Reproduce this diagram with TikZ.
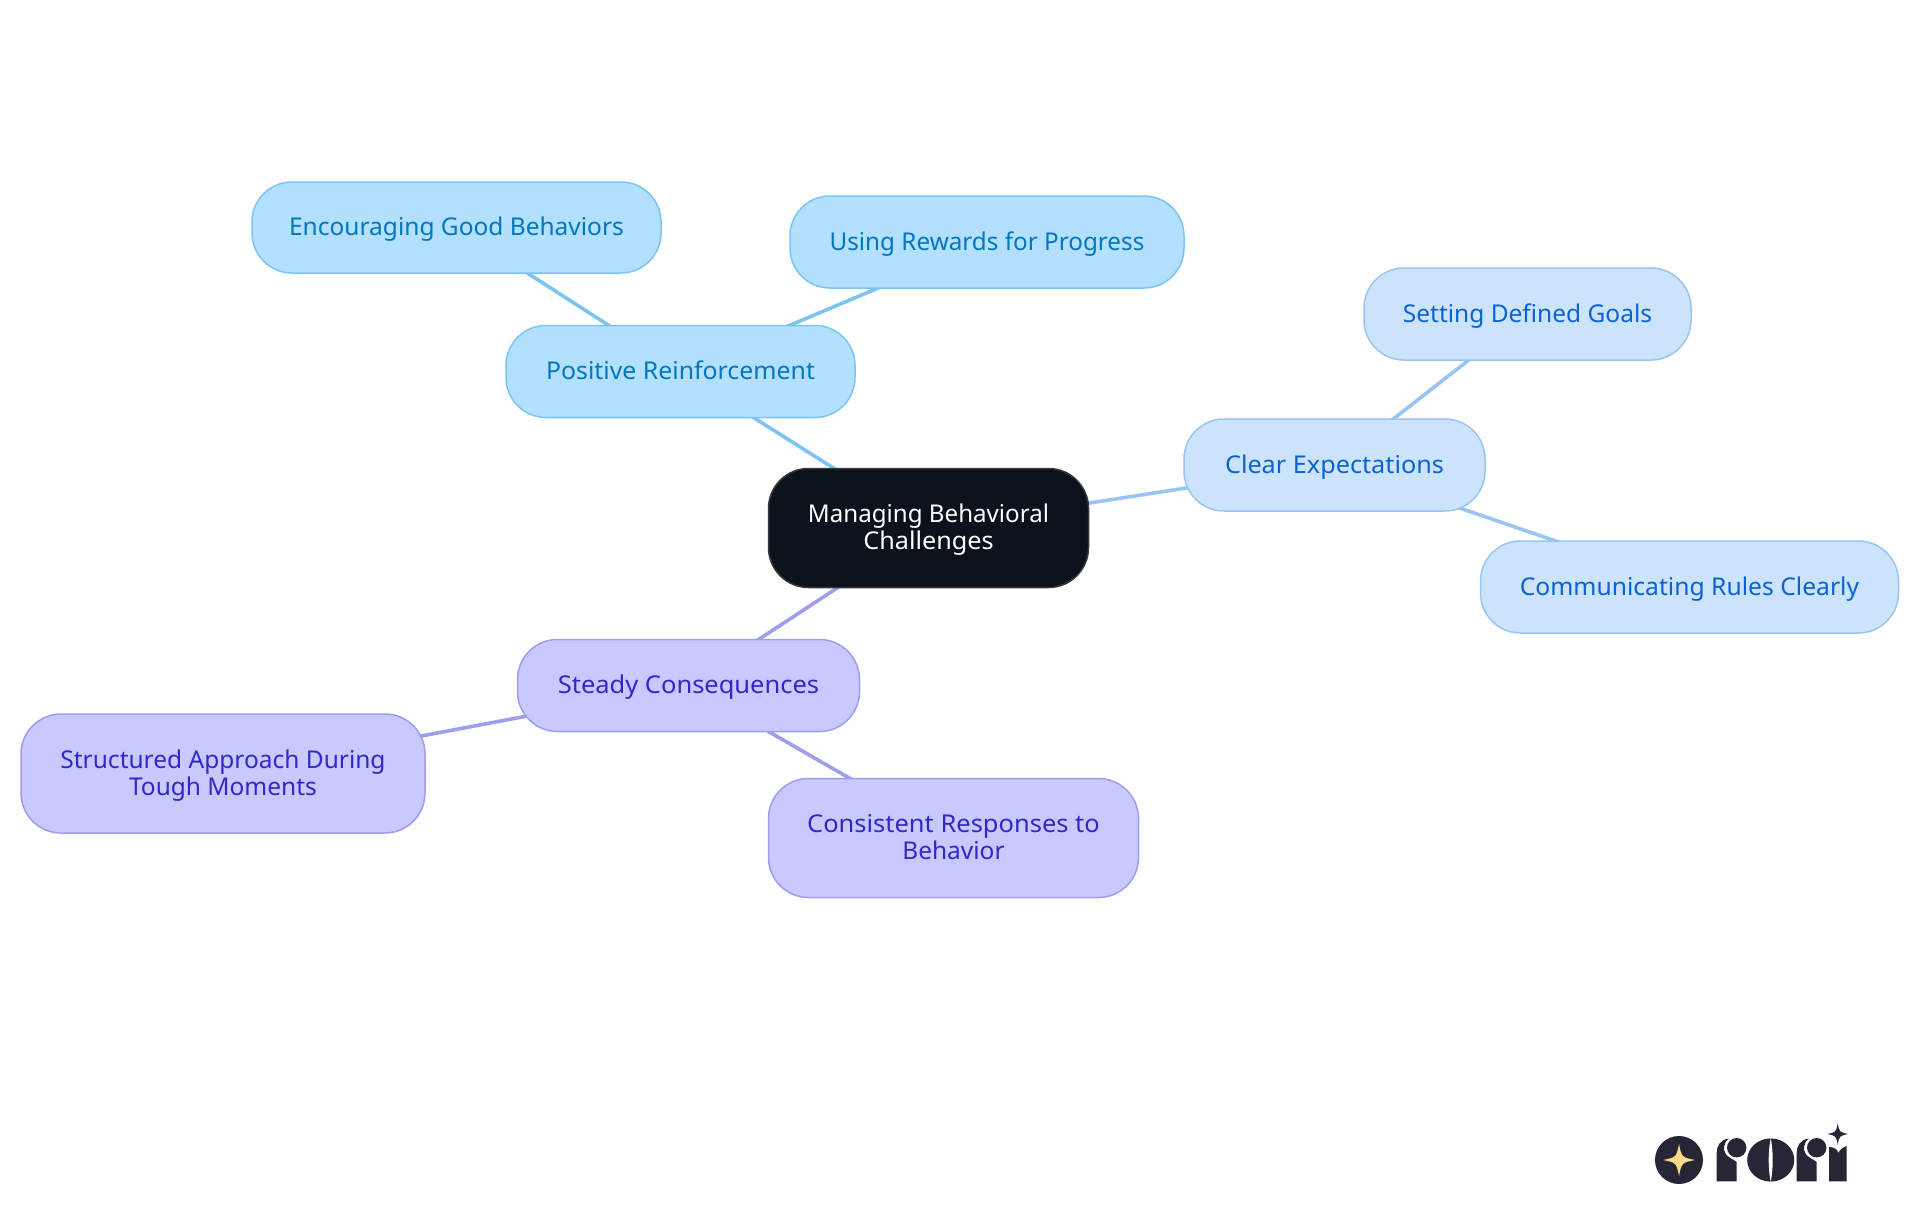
\documentclass[tikz,border=0pt]{standalone}
\usepackage{fontspec}
\setmainfont{Noto Sans}
\usetikzlibrary{backgrounds}
\definecolor{cfill}{HTML}{0B121B}\definecolor{cdraw}{HTML}{34383F}
\definecolor{pfill}{HTML}{B3E0FF}\definecolor{pdraw}{HTML}{7CC4F2}\definecolor{ptext}{HTML}{0277BD}
\definecolor{efill}{HTML}{CCE3FC}\definecolor{edraw}{HTML}{9AC5F2}\definecolor{etext}{HTML}{0B62D6}
\definecolor{sfill}{HTML}{C8C9FF}\definecolor{sdraw}{HTML}{9E9DF0}\definecolor{stext}{HTML}{3326CC}
\definecolor{logo}{HTML}{272636}\definecolor{logostar}{HTML}{FBD987}
\tikzset{
 x=1pt,y=1pt,
 box/.style={rectangle,rounded corners=40pt,line width=1.5pt,inner sep=0pt,outer sep=0pt,align=center,
   font=\fontsize{24.5}{27}\selectfont},
 rootbox/.style={box,fill=cfill,draw=cdraw,text=white},
 posbox/.style={box,fill=pfill,draw=pdraw,text=ptext},
 expbox/.style={box,fill=efill,draw=edraw,text=etext},
 conbox/.style={box,fill=sfill,draw=sdraw,text=stext},
 link/.style={line width=3.6pt},
}
\newcommand{\tl}[2]{\rule[-4pt]{0pt}{24pt}\smash{\scalebox{#1}[1]{#2}}}
\newcommand{\fourstar}[4]{% x y r colour
  \fill[#4] (#1,#2+#3) .. controls (#1+#3*0.17,#2+#3*0.17) .. (#1+#3,#2)
   .. controls (#1+#3*0.17,#2-#3*0.17) .. (#1,#2-#3)
   .. controls (#1-#3*0.17,#2-#3*0.17) .. (#1-#3,#2)
   .. controls (#1-#3*0.17,#2+#3*0.17) .. cycle;}
\newcommand{\logor}[1]{%
  \fill[logo] (#1,-1181.3) -- (#1,-1153) .. controls (#1,-1146) and (#1+3,-1140) .. (#1+12,-1138.5)
    .. controls (#1+7,-1142) and (#1+6,-1150) .. (#1+9,-1154) .. controls (#1+12,-1158) and (#1+18,-1160) .. (#1+20,-1162)
    -- (#1+20,-1181.3) -- cycle;
  \fill[logo] (#1+20,-1147.7) circle (9.7);}
\begin{document}
\begin{tikzpicture}
\useasboundingbox (0,0) rectangle (1920,-1215);
\node[rootbox,minimum width=320pt,minimum height=119pt] (root) at (928.5,-528) {\tl{.985}{Managing Behavioral}\\\tl{1.03}{Challenges}};
\node[posbox,minimum width=349pt,minimum height=92pt] (pos) at (680.5,-371.5) {\tl{1.014}{Positive Reinforcement}};
\node[posbox,minimum width=409pt,minimum height=91pt] (enc) at (456.5,-227.5) {\tl{1}{Encouraging Good Behaviors}};
\node[posbox,minimum width=394pt,minimum height=92pt] (rew) at (987,-242) {\tl{.99}{Using Rewards for Progress}};
\node[expbox,minimum width=301pt,minimum height=92pt] (exp) at (1334.5,-465) {\tl{1.03}{Clear Expectations}};
\node[expbox,minimum width=327pt,minimum height=92pt] (set) at (1527.5,-314) {\tl{1}{Setting Defined Goals}};
\node[expbox,minimum width=418pt,minimum height=92pt] (com) at (1689.5,-587) {\tl{1.007}{Communicating Rules Clearly}};
\node[conbox,minimum width=342pt,minimum height=92pt] (ste) at (688.5,-685.5) {\tl{1.04}{Steady Consequences}};
\node[conbox,minimum width=404pt,minimum height=119pt] (stru) at (223,-773.5) {\tl{1}{Structured Approach During}\\\tl{1}{Tough Moments}};
\node[conbox,minimum width=370pt,minimum height=119pt] (cons) at (953.5,-838) {\tl{1.04}{Consistent Responses to}\\\tl{1}{Behavior}};
\begin{scope}[on background layer]
\draw[link,pdraw] (root.center) -- (pos.center);
\draw[link,pdraw] (pos.center) -- (enc.center);
\draw[link,pdraw] (pos.center) -- (rew.center);
\draw[link,edraw] (root.center) -- (exp.center);
\draw[link,edraw] (exp.center) -- (set.center);
\draw[link,edraw] (exp.center) -- (com.center);
\draw[link,sdraw] (root.center) -- (ste.center);
\draw[link,sdraw] (ste.center) -- (stru.center);
\draw[link,sdraw] (ste.center) -- (cons.center);
\end{scope}
% logo
\fill[logo] (1679,-1160) circle (24);
\fourstar{1679}{-1160}{16}{logostar}
\logor{1716.7}
\logor{1796.7}
\fill[logo] (1770.7,-1160) ellipse (23.5 and 21.6);
\fill[white] (1770.7,-1138) .. controls (1768,-1152) and (1768,-1168) .. (1770.7,-1182)
  .. controls (1773.4,-1168) and (1773.4,-1152) .. cycle;
\fill[logo] (1829,-1181.3) -- (1829,-1147) .. controls (1835,-1147) and (1838,-1150) .. (1838,-1153)
  .. controls (1840,-1150) and (1843,-1147) .. (1846.7,-1146) -- (1846.7,-1181.3) -- cycle;
\fourstar{1837.7}{-1134}{10.5}{logo}
\end{tikzpicture}
\end{document}
